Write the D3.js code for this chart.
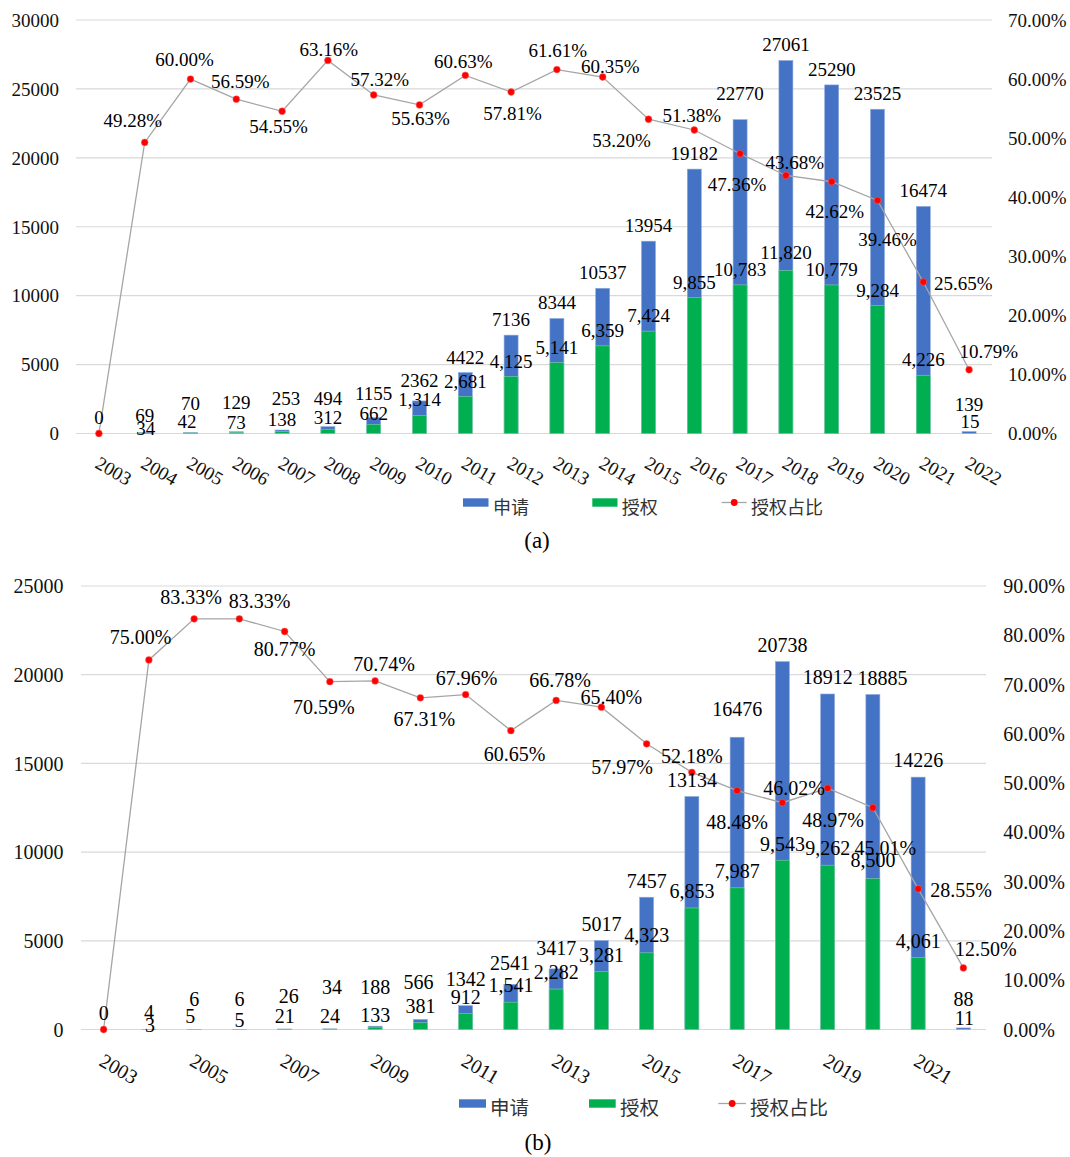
<!DOCTYPE html>
<html>
<head>
<meta charset="utf-8">
<script src="https://cdn.jsdelivr.net/npm/d3@7"></script>
<style>
  html, body { margin: 0; padding: 0; background: #fff; }
  svg { display: block; }
</style>
</head>
<body>
<svg id="chart" width="1070" height="1157"></svg>
<script>
// ---------- data ----------
const years = ["2003","2004","2005","2006","2007","2008","2009","2010","2011","2012",
               "2013","2014","2015","2016","2017","2018","2019","2020","2021","2022"];

// (a)
const applicationsA = [0, 69, 70, 129, 253, 494, 1155, 2362, 4422, 7136,
                       8344, 10537, 13954, 19182, 22770, 27061, 25290, 23525, 16474, 139];
const grantsA = [0, 34, 42, 73, 138, 312, 662, 1314, 2681, 4125,
                 5141, 6359, 7424, 9855, 10783, 11820, 10779, 9284, 4226, 15];
const grantShareA = [0, 49.28, 60.00, 56.59, 54.55, 63.16, 57.32, 55.63, 60.63, 57.81,
                     61.61, 60.35, 53.20, 51.38, 47.36, 43.68, 42.62, 39.46, 25.65, 10.79];
const leftTicksA = [0, 5000, 10000, 15000, 20000, 25000, 30000];
const rightTicksA = [0, 10, 20, 30, 40, 50, 60, 70];
const xTickLabelsA = years;

// (b)
const applicationsB = [0, 4, 6, 6, 26, 34, 188, 566, 1342, 2541,
                       3417, 5017, 7457, 13134, 16476, 20738, 18912, 18885, 14226, 88];
const grantsB = [0, 3, 5, 5, 21, 24, 133, 381, 912, 1541,
                 2282, 3281, 4323, 6853, 7987, 9543, 9262, 8500, 4061, 11];
const grantShareB = [0, 75.00, 83.33, 83.33, 80.77, 70.59, 70.74, 67.31, 67.96, 60.65,
                     66.78, 65.40, 57.97, 52.18, 48.48, 46.02, 48.97, 45.01, 28.55, 12.50];
const leftTicksB = [0, 5000, 10000, 15000, 20000, 25000];
const rightTicksB = [0, 10, 20, 30, 40, 50, 60, 70, 80, 90];
const xTickLabelsB = ["2003","2005","2007","2009","2011","2013","2015","2017","2019","2021"];

const legendLabels = ["申请", "授权", "授权占比"];
const captions = ["(a)", "(b)"];

// ---------- layout ----------
const COLORS = { app: "#4472C4", grant: "#00B050", line: "#A5A5A5", dot: "#FF0000", grid: "#D9D9D9" };
const NUM_FONT = "'Liberation Serif', 'Times New Roman', serif";
const CJK_FONT = "'Noto Sans CJK SC', 'Noto Sans', sans-serif";

// hand-placed label nudges [dx, dy] (keyed by year)
const appNudgeA   = { "2004":[0,-1.4], "2005":[0,-13.2], "2006":[0,-13.4], "2007":[4,-16.4], "2008":[0,-13],
                      "2009":[0,-8.3], "2010":[0,-5], "2017":[0,-11], "2022":[0,-11.3] };
const grantNudgeA = { "2004":[1,10.6], "2005":[-3.5,4], "2006":[0,5.8], "2007":[0,3.7], "2008":[0,3.4],
                      "2009":[0,4.3], "2018":[0,-3], "2022":[1,3.7] };
const shareNudgeA = [null,[-12,-21.6],[-6,-19],[4,-17],[-3.5,15.4],[1,-11],[6,-15.6],[1,13.4],[-2,-14],[1.5,22],
                     [1,-19.3],[7.7,-10.5],[-27,21.5],[-2.6,-14.5],[-3,30.5],[8.8,-13],[3,29.5],[10,39.6],[40,1.3],[19.6,-18]];

const appNudgeB   = { "2004":[0,-0.9], "2005":[0,-13.7], "2006":[0,-13.7], "2007":[4,-16.7], "2008":[2,-24.9],
                      "2009":[0,-22.9], "2010":[-2,-21.2], "2011":[0,-10.2], "2012":[-1,-4.8], "2013":[0,-4.3],
                      "2017":[0,-11.7], "2020":[9.5,0], "2022":[0,-12.3] };
const grantNudgeB = { "2004":[1,11.9], "2005":[-4,3.6], "2006":[0,6.8], "2007":[0,3.3], "2008":[0,3.7],
                      "2009":[0,5], "2015":[0,-1.2], "2020":[0,-1.6], "2022":[1,5.1] };
const shareNudgeB = [null,[-8.4,-22.4],[-3,-21.7],[20.3,-17.6],[0,17.7],[-6,25.8],[9,-16.7],[4,21.4],[1,-15.8],[3.6,24],
                     [4,-19.6],[10,-10.2],[-24.5,23.7],[0,-15.7],[0,32],[11.7,-14],[5.4,31.8],[12.5,41],[43,2],[22.4,-18.7]];

const panels = [
  { apps: applicationsA, grants: grantsA, share: grantShareA,
    leftTicks: leftTicksA, rightTicks: rightTicksA, xLabels: xTickLabelsA,
    left: 76, right: 992, top: 20, bottom: 433.5, font: 19, labelGap: 15.3,
    leftLabelX: 59, rightLabelX: 1008, xLabelDx: -5, xLabelY: 467,
    appNudge: appNudgeA, grantNudge: grantNudgeA, shareNudge: shareNudgeA,
    legend: { y: 502.5, h: 8.4, font: 18, sw: [[463, 488.5], [592.3, 617.5]], text: [493, 621.7, 751],
              line: [721.7, 746.7] },
    caption: { text: captions[0], x: 537, y: 548 } },
  { apps: applicationsB, grants: grantsB, share: grantShareB,
    leftTicks: leftTicksB, rightTicks: rightTicksB, xLabels: xTickLabelsB,
    left: 81, right: 986, top: 586, bottom: 1029.5, font: 20, labelGap: 16.3,
    leftLabelX: 63.5, rightLabelX: 1003.3, xLabelDx: -5.6, xLabelY: 1064.8,
    appNudge: appNudgeB, grantNudge: grantNudgeB, shareNudge: shareNudgeB,
    legend: { y: 1103.5, h: 8.4, font: 19.5, sw: [[459, 486], [589, 615.7]], text: [490, 620, 750],
              line: [718.3, 746] },
    caption: { text: captions[1], x: 538, y: 1150 } }
];

const svg = d3.select("#chart");
const fmtApp = d3.format("d");
const fmtGrant = d3.format(",");
const fmtPct = v => d3.format(".2f")(v) + "%";

panels.forEach(p => {
  const g = svg.append("g");
  const pad = 1 - 14 / ((p.right - p.left) / years.length);
  const x = d3.scaleBand().domain(years).range([p.left, p.right])
              .paddingInner(pad).paddingOuter(pad / 2);
  const cx = d => x(d) + x.bandwidth() / 2;
  const y = d3.scaleLinear().domain([0, d3.max(p.leftTicks)]).range([p.bottom, p.top]);
  const y2 = d3.scaleLinear().domain([0, d3.max(p.rightTicks)]).range([p.bottom, p.top]);

  // gridlines
  g.append("g").selectAll("line").data(p.leftTicks).join("line")
    .attr("x1", p.left).attr("x2", p.right)
    .attr("y1", d => y(d)).attr("y2", d => y(d))
    .attr("stroke", COLORS.grid).attr("stroke-width", 1.2);

  // left axis
  const axL = g.append("g").attr("transform", `translate(${p.leftLabelX},0)`)
    .call(d3.axisLeft(y).tickValues(p.leftTicks).tickSize(0).tickPadding(0).tickFormat(fmtApp));
  axL.select(".domain").remove();
  axL.selectAll("text").attr("font-family", NUM_FONT).attr("font-size", p.font)
     .attr("fill", "#111").attr("dy", "0.33em");

  // right axis
  const axR = g.append("g").attr("transform", `translate(${p.rightLabelX},0)`)
    .call(d3.axisRight(y2).tickValues(p.rightTicks).tickSize(0).tickPadding(0).tickFormat(fmtPct));
  axR.select(".domain").remove();
  axR.selectAll("text").attr("font-family", NUM_FONT).attr("font-size", p.font)
     .attr("fill", "#111").attr("dy", "0.33em");

  // x labels, rotated
  g.append("g").selectAll("text").data(p.xLabels).join("text")
    .attr("transform", d => `translate(${cx(d) + p.xLabelDx},${p.xLabelY}) rotate(30)`)
    .attr("font-family", NUM_FONT).attr("font-size", p.font).attr("fill", "#111")
    .text(d => d);

  const rows = years.map((yr, i) => ({ yr, i, app: p.apps[i], grant: p.grants[i], share: p.share[i] }));

  // bars: applications behind, grants in front
  g.append("g").selectAll("rect").data(rows).join("rect")
    .attr("x", d => x(d.yr)).attr("width", x.bandwidth())
    .attr("y", d => y(d.app)).attr("height", d => p.bottom - y(d.app))
    .attr("fill", COLORS.app).attr("stroke", "#8FAADC").attr("stroke-width", 0.6);
  g.append("g").selectAll("rect").data(rows).join("rect")
    .attr("x", d => x(d.yr)).attr("width", x.bandwidth())
    .attr("y", d => y(d.grant)).attr("height", d => p.bottom - y(d.grant))
    .attr("fill", COLORS.grant).attr("stroke", "#7FD3A3").attr("stroke-width", 0.6);

  // grant share line
  const line = d3.line().x(d => cx(d.yr)).y(d => y2(d.share));
  g.append("path").datum(rows).attr("d", line)
    .attr("fill", "none").attr("stroke", COLORS.line).attr("stroke-width", 1.3);
  g.append("g").selectAll("circle").data(rows).join("circle")
    .attr("cx", d => cx(d.yr)).attr("cy", d => y2(d.share)).attr("r", 3.4)
    .attr("fill", COLORS.dot).attr("stroke", "#F46A6A").attr("stroke-width", 0.5);

  // value labels
  const lab = g.append("g").attr("font-family", NUM_FONT).attr("font-size", p.font)
    .attr("fill", "#000").attr("text-anchor", "middle");
  const nud = (m, k) => m[k] || [0, 0];
  lab.selectAll(".app").data(rows).join("text").attr("class", "app")
    .attr("x", d => cx(d.yr) + nud(p.appNudge, d.yr)[0])
    .attr("y", d => y(d.app) - p.labelGap + nud(p.appNudge, d.yr)[1])
    .attr("dy", "0.33em").text(d => fmtApp(d.app));
  lab.selectAll(".grant").data(rows.filter(d => d.grant > 0)).join("text").attr("class", "grant")
    .attr("x", d => cx(d.yr) + nud(p.grantNudge, d.yr)[0])
    .attr("y", d => y(d.grant) - p.labelGap + nud(p.grantNudge, d.yr)[1])
    .attr("dy", "0.33em").text(d => fmtGrant(d.grant));
  lab.selectAll(".share").data(rows.filter(d => p.shareNudge[d.i])).join("text").attr("class", "share")
    .attr("x", d => cx(d.yr) + p.shareNudge[d.i][0])
    .attr("y", d => y2(d.share) + p.shareNudge[d.i][1])
    .attr("dy", "0.33em").text(d => fmtPct(d.share));

  // legend
  const L = p.legend;
  const lg = g.append("g");
  [COLORS.app, COLORS.grant].forEach((c, k) => {
    lg.append("rect").attr("x", L.sw[k][0]).attr("y", L.y - L.h / 2)
      .attr("width", L.sw[k][1] - L.sw[k][0]).attr("height", L.h).attr("fill", c);
  });
  lg.append("line").attr("x1", L.line[0]).attr("x2", L.line[1]).attr("y1", L.y).attr("y2", L.y)
    .attr("stroke", COLORS.line).attr("stroke-width", 1.3);
  lg.append("circle").attr("cx", (L.line[0] + L.line[1]) / 2).attr("cy", L.y).attr("r", 3.4)
    .attr("fill", COLORS.dot);
  legendLabels.forEach((t, k) => {
    lg.append("text").attr("x", L.text[k]).attr("y", L.y + 3)
      .attr("dominant-baseline", "central")
      .attr("font-family", CJK_FONT).attr("font-size", L.font).attr("fill", "#333").text(t);
  });

  // caption
  g.append("text").attr("x", p.caption.x).attr("y", p.caption.y).attr("text-anchor", "middle")
    .attr("font-family", NUM_FONT).attr("font-size", 23).attr("fill", "#000").text(p.caption.text);
});
</script>
</body>
</html>
